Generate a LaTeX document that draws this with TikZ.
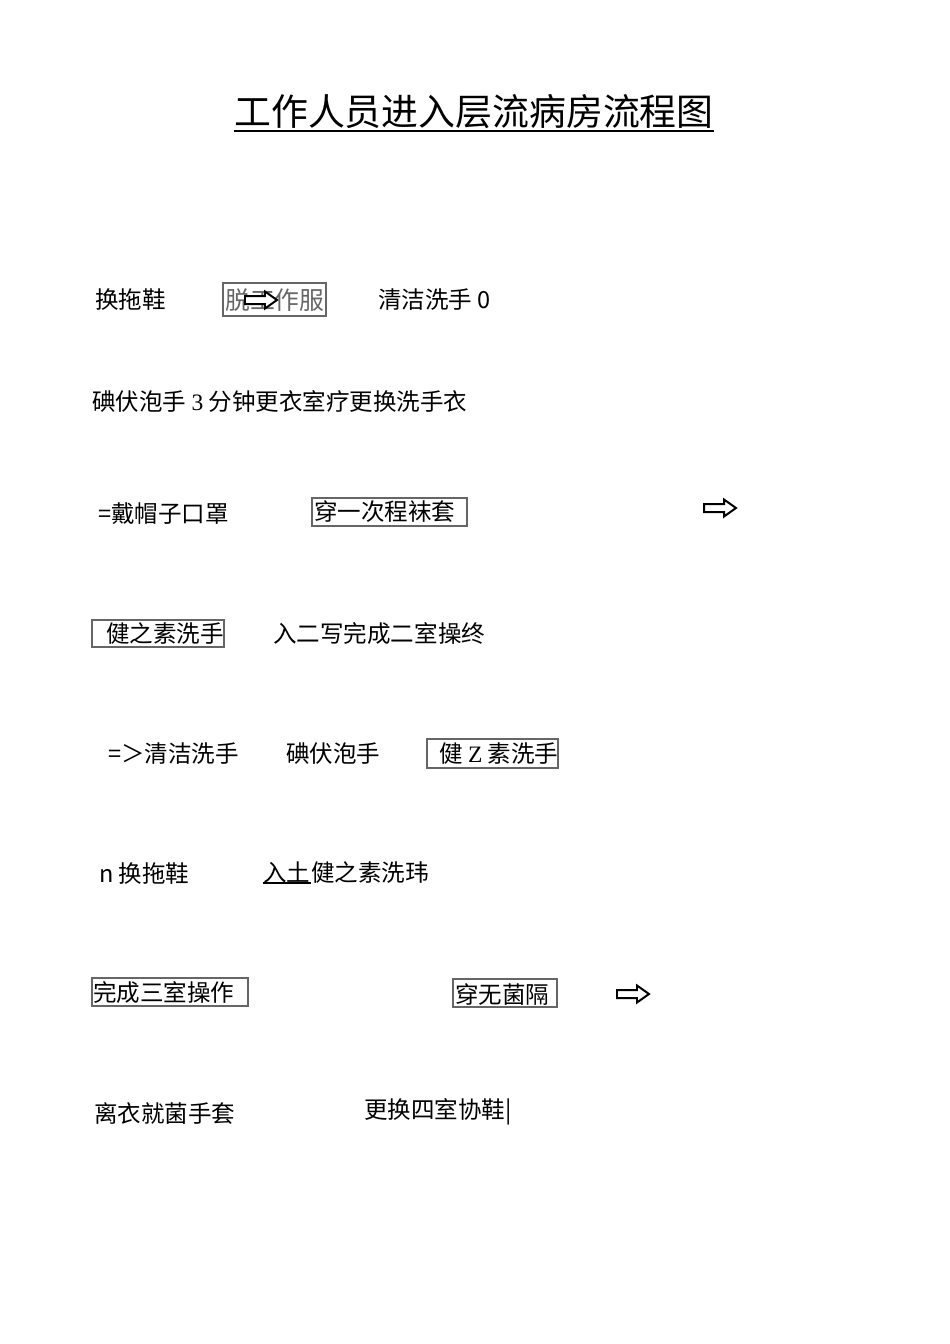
\documentclass[tikz,border=0pt]{standalone}
\usepackage{fontspec}
\setmainfont{Noto Sans CJK SC}
\newfontfamily\serifnum{Liberation Serif}
\usetikzlibrary{positioning}

\tikzset{
	rowtext/.style={anchor=west, inner sep=0pt, font=\fontsize{14.8}{16}\selectfont},
	framebox/.style={draw=black!60, line width=0.7pt},
	pics/hollowarrow/.style={code={
		\draw[line width=1.25pt, fill=white, line join=miter]
			(0,-4) -- (20,-4) -- (20,-8.5) -- (32,0) -- (20,8.5) -- (20,4) -- (0,4) -- cycle;
	}}
}

\begin{document}
\begin{tikzpicture}[x=0.02211cm, y=-0.02211cm]
		% page
		\useasboundingbox[fill=white] (0,0) rectangle (950,1344);

		% Title (underlined)
		\node[inner sep=0pt, font=\fontsize{23.2}{26}\selectfont] (title) at (474,112) {工作人员进入层流病房流程图};
		\draw[line width=1.1pt] (title.west |- 0,131) -- (title.east |- 0,131);

		% Frames round the boxed steps
		\foreach \xa/\ya/\xb/\yb in {223/283/326/316, 312/498/467/526, 92/620/224/647,
			427/739/558/768, 92/978/248/1006, 453/979/557/1007} {
			\draw[framebox] (\xa,\ya) rectangle (\xb,\yb);
		}

		% Row 1
		\node[rowtext] (shoes) at (95,300) {换拖鞋};
		\node[rowtext, text=black!60, font=\fontsize{15.6}{17}\selectfont] (undress) at (225,300) {脱工作服};
		\pic at (245,300) {hollowarrow};
		\node[rowtext] (clean) at (378,300) {清洁洗手 0};

		% Row 2
		\node[rowtext] (iodine) at (92,401) {碘伏泡手 {\serifnum 3} 分钟更衣室疗更换洗手衣};

		% Row 3
		\node[rowtext] (cap) at (98,514) {=戴帽子口罩};
		\node[rowtext] (socks) at (314,512) {穿一次程袜套};
		\pic at (704,508) {hollowarrow};

		% Row 4
		\node[rowtext] (wash) at (106,634) {健之素洗手};
		\node[rowtext] (room2) at (273,634) {入二写完成二室操终};

		% Row 5
		\node[rowtext] (clean2) at (108,754) {=＞清洁洗手};
		\node[rowtext] (iodine2) at (286,754) {碘伏泡手};
		\node[rowtext] (wash2) at (439,754) {健 {\serifnum Z} 素洗手};

		% Row 6
		\node[rowtext] (shoes2) at (99,874) {n 换拖鞋};
		\node[rowtext] (enter) at (263,872) {入土};
		\node[rowtext, right=0pt of enter] (wash3) {健之素洗玮};
		\draw[line width=0.8pt] (enter.south west) -- (enter.south east);

		% Row 7
		\node[rowtext] (room3) at (93,993) {完成三室操作};
		\node[rowtext] (gown) at (455,994) {穿无菌隔};
		\pic at (617,994) {hollowarrow};

		% Row 8
		\node[rowtext] (gloves) at (94,1113) {离衣就菌手套};
		\node[rowtext] (room4) at (364,1112) {更换四室协鞋|};
	\end{tikzpicture}
\end{document}
